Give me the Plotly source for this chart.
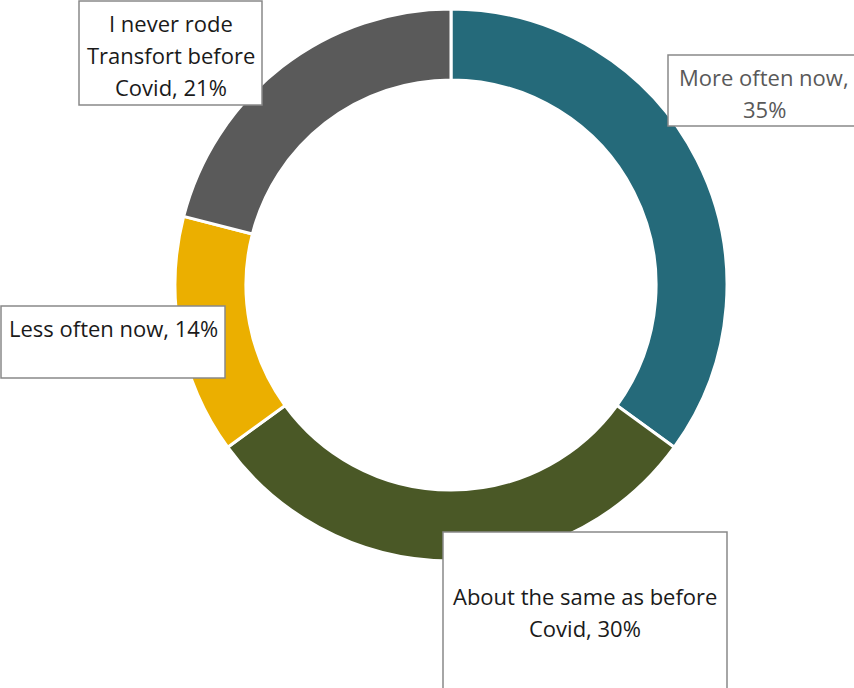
import textwrap
import plotly.graph_objects as go

# Survey responses: how often people ride Transfort compared with before Covid
categories = [
    "More often now",
    "About the same as before Covid",
    "Less often now",
    "I never rode Transfort before Covid",
]
percent = [35, 30, 14, 21]
colors = ["#256A7A", "#4A5826", "#EBAF00", "#5A5A5A"]

W, H = 854, 688
LINE_GAP = 32

fig = go.Figure(
    go.Pie(
        labels=categories,
        values=percent,
        sort=False,
        direction="clockwise",
        rotation=0,
        hole=0.743,
        textinfo="none",
        hoverinfo="label+percent",
        marker=dict(colors=colors, line=dict(color="white", width=3)),
        domain=dict(x=[175 / W, 727 / W], y=[(688 - 561) / H, (688 - 9) / H]),
    )
)

# Callout boxes in pixels: left, top, width, height, first text line centre, wrap width, text colour
boxes = [
    dict(x0=668, y0=55, w=192, h=71, line1=77, wrap=16, color="#595959"),
    dict(x0=443, y0=532, w=284, h=165, line1=596, wrap=24, color="#1A1A1A"),
    dict(x0=1, y0=306, w=224, h=72, line1=328, wrap=30, color="#1A1A1A"),
    dict(x0=79, y0=1, w=183, h=104, line1=23, wrap=16, color="#1A1A1A"),
]


def px(x):
    return x / W


def py(y):
    return 1 - y / H


for cat, val, b in zip(categories, percent, boxes):
    fig.add_shape(
        type="rect", xref="paper", yref="paper",
        x0=px(b["x0"]), x1=px(b["x0"] + b["w"]),
        y0=py(b["y0"] + b["h"]), y1=py(b["y0"]),
        fillcolor="white", line=dict(color="#898989", width=1.5),
        layer="above",
    )
    lines = textwrap.wrap(f"{cat}, {val}%", width=b["wrap"])
    cx = b["x0"] + b["w"] / 2
    for i, line in enumerate(lines):
        fig.add_annotation(
            xref="paper", yref="paper",
            x=px(cx), y=py(b["line1"] + i * LINE_GAP),
            xanchor="center", yanchor="middle",
            text=line, showarrow=False,
            font=dict(family="Open Sans", size=22, color=b["color"]),
        )

fig.update_layout(
    width=W, height=H,
    margin=dict(l=0, r=0, t=0, b=0),
    paper_bgcolor="white", plot_bgcolor="white",
    showlegend=False,
)

fig.write_html("out.html")
